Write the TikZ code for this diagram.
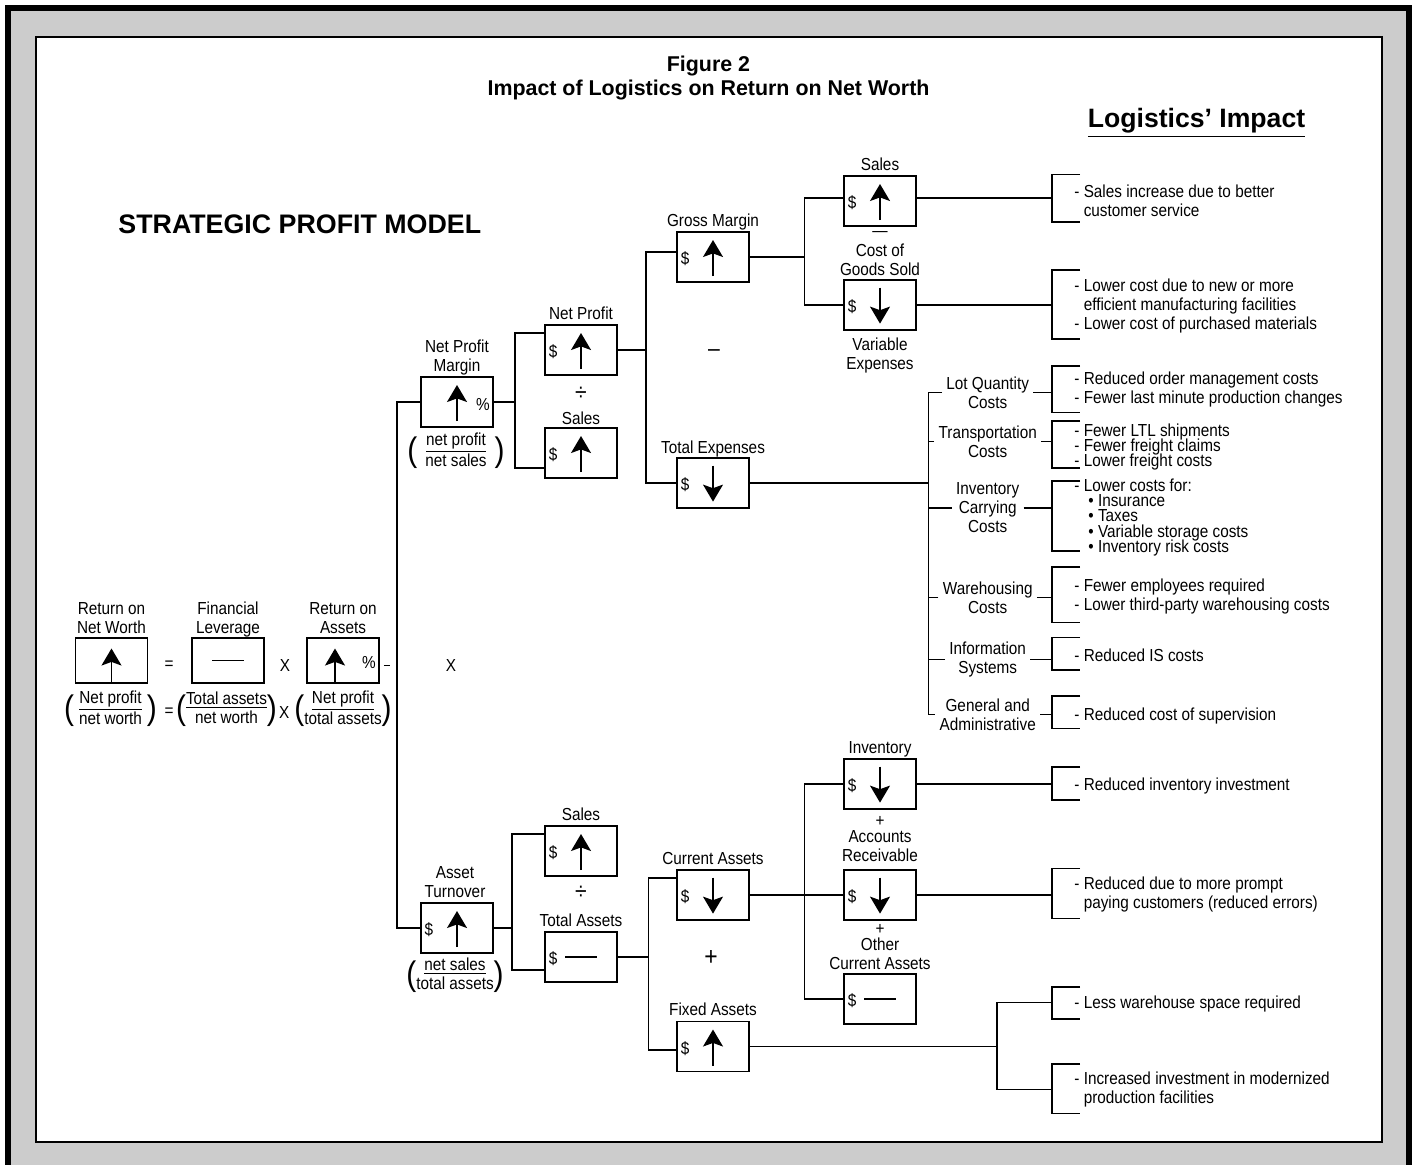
\documentclass[tikz,border=0pt]{standalone}
\usepackage{fontspec}
\setmainfont[FakeStretch=0.88]{Liberation Sans}
\newfontfamily\headfont{Liberation Sans}
\usetikzlibrary{arrows.meta}
\definecolor{framegray}{RGB}{204,204,204}
\newcommand\bigparen[1]{{\fontsize{17}{17}\selectfont\raisebox{-2.4pt}{#1}}}
\newcommand\ratiofrac[3][0pt]{\bigparen{(}\hspace{#1}\begin{tabular}{@{}c@{}}\underline{#2}\\#3\end{tabular}\hspace{#1}\bigparen{)}}

\begin{document}
\begin{tikzpicture}[
    x=0.5pt, y=-0.5pt,
    font=\fontsize{8.7}{9.5}\selectfont,
    box/.style={draw, line width=0.9pt, minimum width=36pt, minimum height=25pt, inner sep=0pt},
    lowbox/.style={box, minimum height=22.5pt},
    lbl/.style={align=center, inner sep=0pt, anchor=base},
    cost/.style={align=center, inner xsep=2pt, inner ysep=0pt, anchor=base},
    note/.style={align=left, inner sep=0pt, anchor=base west},
    frac/.style={inner sep=0pt},
    op/.style={inner sep=0pt},
    bigop/.style={op, font=\fontsize{12}{12}\selectfont},
    link/.style={line width=0.8pt},
    uparr/.style={line width=0.7pt, -{Stealth[length=8.5pt, width=10pt, inset=1.8pt]}},
    heading/.style={font=\headfont\bfseries\fontsize{#1}{#1}\selectfont, inner sep=0pt}
]

% --- Frame ---
\useasboundingbox (0,0) rectangle (1416,1164);
\fill[framegray] (8,8) rectangle (1409,1170);
\draw[line width=2.6pt] (8,1170) -- (8,8) -- (1409,8) -- (1409,1170);
\draw[line width=0.6pt, fill=white] (36,37) rectangle (1382,1142);

% --- Headings ---
\node[heading=10.7, anchor=base] (fig) at (708.5,71.5) {Figure 2};
\node[heading=10.7, anchor=base] (title) at (708.5,95.5) {Impact of Logistics on Return on Net Worth};
\node[heading=13.3, anchor=base] (impact) at (1196.5,127.5) {\underline{Logistics’ Impact}};
\node[heading=13.4, anchor=base west] (spm) at (118,233.5) {STRATEGIC PROFIT MODEL};

% --- Boxes ---
\node[lowbox] (roe) at (111.5,660.5) {};
\node[lowbox] (lev) at (228,660.5) {};
\node[lowbox] (roa) at (343,660.5) {};
\node[box] (npm) at (457,402) {};
\node[box] (ato) at (457,928) {};
\node[box] (np) at (581,350) {};
\node[box] (nsal) at (581,453) {};
\node[box] (gm) at (713,257) {};
\node[box] (texp) at (713,483) {};
\node[box] (sal) at (880,201) {};
\node[box] (cogs) at (880,305) {};
\node[box] (asal) at (581,851) {};
\node[box] (tas) at (581,957) {};
\node[box] (cas) at (713,895) {};
\node[box] (fas) at (713,1046.5) {};
\node[box] (inv) at (880,784) {};
\node[box] (ar) at (880,895) {};
\node[box] (oca) at (880,999) {};

% --- Marks inside the boxes ---
\foreach \b/\dx in {roe/0, roa/-4}
    \draw[uparr] ([xshift=\dx pt, yshift=-10.5pt]\b.center) -- ([xshift=\dx pt, yshift=6pt]\b.center);
\foreach \b in {npm,ato,np,nsal,gm,sal,asal,fas}
    \draw[uparr] ([yshift=-9.5pt]\b.center) -- ([yshift=8.5pt]\b.center);
\foreach \b in {cogs,texp,cas,inv,ar}
    \draw[uparr] ([yshift=8.7pt]\b.center) -- ([yshift=-9.3pt]\b.center);
\foreach \b in {lev,tas,oca}
    \draw[link] ([xshift=-8pt]\b.center) -- ([xshift=8pt]\b.center);
\foreach \b in {ato,np,nsal,gm,sal,cogs,texp,asal,tas,cas,fas,inv,ar,oca}
    \node[inner sep=0pt] (\b-usd) at ([xshift=-14pt, yshift=-1pt]\b.center) {\$};
\foreach \b in {npm,roa}
    \node[inner sep=0pt] (\b-pct) at ([xshift=13pt, yshift=-1pt]\b.center) {\%};

% --- Box labels (placed at the last baseline) ---
\node[lbl] (roe-l) at (111.5,633.3) {Return on\\Net Worth};
\node[lbl] (lev-l) at (228,633.3) {Financial\\Leverage};
\node[lbl] (roa-l) at (343,633.3) {Return on\\Assets};
\node[lbl] (npm-l) at (457,371.7) {Net Profit\\Margin};
\node[lbl] (ato-l) at (455,897) {Asset\\Turnover};
\node[lbl] (np-l) at (581,319.3) {Net Profit};
\node[lbl] (nsal-l) at (581,424.3) {Sales};
\node[lbl] (gm-l) at (713,226) {Gross Margin};
\node[lbl] (texp-l) at (713,453.3) {Total Expenses};
\node[lbl] (sal-l) at (880,170.7) {Sales};
\node[lbl] (cogs-l) at (880,275) {Cost of\\Goods Sold};
\node[lbl] (var-l) at (880,369.3) {Variable\\Expenses};
\node[lbl] (asal-l) at (581,820) {Sales};
\node[lbl] (tas-l) at (581,926) {Total Assets};
\node[lbl] (cas-l) at (713,864) {Current Assets};
\node[lbl] (fas-l) at (713,1015.7) {Fixed Assets};
\node[lbl] (inv-l) at (880,753.3) {Inventory};
\node[lbl] (ar-l) at (880,861.7) {Accounts\\Receivable};
\node[lbl] (oca-l) at (880,969.3) {Other\\Current Assets};

% --- Operators ---
\node[op] (eq1) at (169,665) {=};
\node[op] (times1) at (285,665) {X};
\node[op] (times2) at (451,665) {X};
\node[op] (eq2) at (169,712) {=};
\node[op] (times3) at (284.3,712) {X};
\node[bigop] (div1) at (581,393.3) {÷};
\node[bigop] (div2) at (581,893) {÷};
\node[bigop] (minus1) at (714,353.3) {–};
\node[op] (minus2) at (880,234.3) {—};
\node[op] (plus1) at (880,821.7) {+};
\node[op] (plus2) at (880,929.3) {+};
\node[op, font=\fontsize{13}{13}\selectfont] (plus3) at (711,958) {+};

% --- Ratios ---
\node[frac] (roe-f) at (110.5,710) {\ratiofrac[2.5pt]{Net profit}{net worth}};
\node[frac] (lev-f) at (226.5,710) {\ratiofrac{Total assets}{net worth}};
\node[frac] (roa-f) at (343,710) {\ratiofrac{Net profit}{total assets}};
\node[frac] (npm-f) at (456,452) {\ratiofrac[4pt]{net profit}{net sales}};
\node[frac] (ato-f) at (455,976) {\ratiofrac{net sales}{total assets}};

% --- Cost items ---
\node[cost] (lqc) at (987.7,408.3) {Lot Quantity\\Costs};
\node[cost] (trc) at (987.7,457.3) {Transportation\\Costs};
\node[cost] (icc) at (987.7,532.7) {Inventory\\Carrying\\Costs};
\node[cost] (whc) at (987.7,613.3) {Warehousing\\Costs};
\node[cost] (isc) at (987.7,673.3) {Information\\Systems};
\node[cost] (gac) at (987.7,730) {General and\\Administrative};

% --- Junctions ---
\coordinate (ms) at (396.7,665);
\coordinate (j1) at (515,401);
\coordinate (j2) at (645.7,349);
\coordinate (j3) at (804.3,256);
\coordinate (cs) at (928.3,483);
\coordinate (j4) at (511.7,928);
\coordinate (j5) at (648.3,957);
\coordinate (j6) at (804.3,895);
\coordinate (j7) at (996.7,1046);
\coordinate (br) at (1051.7,0);
\coordinate (fa1) at (1051.7,1002.3);
\coordinate (fa2) at (1051.7,1089.3);

% --- Connectors ---
\draw[link, shorten <=2pt, shorten >=3.5pt] ([yshift=-2.5pt]roa.east) -- ([yshift=-2.5pt]roa.east -| ms);
\draw[link] (npm.west) -| (ato.west -| ms) -- (ato.west);
\draw[link] (npm.east) -- (npm.east -| j1);
\draw[link] ([yshift=8.5pt]np.west) -| ([yshift=-7.5pt]nsal.west -| j1) -- ([yshift=-7.5pt]nsal.west);
\draw[link] (np.east) -- (np.east -| j2);
\draw[link] ([yshift=2.4pt]gm.west) -| (texp.west -| j2) -- (texp.west);
\draw[link] (gm.east) -- (gm.east -| j3);
\draw[link] ([yshift=1.4pt]sal.west) -| (cogs.west -| j3) -- (cogs.west);
\draw[link] ([yshift=1.4pt]sal.east) -- ([yshift=1.4pt]sal.east -| br);
\draw[link] (cogs.east) -- (cogs.east -| br);
\draw[link] (texp.east) -- (texp.east -| cs);
\draw[link] (lqc.west) -| (gac.west -| cs) -- (gac.west);
\foreach \c in {trc,icc,whc,isc}
    \draw[link] (\c.west) -- (\c.west -| cs);
\foreach \c in {lqc,trc,icc,whc,isc,gac}
    \draw[link] (\c.east) -- (\c.east -| br);

\draw[link] (ato.east) -- (ato.east -| j4);
\draw[link] ([yshift=8.5pt]asal.west) -| ([yshift=-6.5pt]tas.west -| j4) -- ([yshift=-6.5pt]tas.west);
\draw[link] (tas.east) -- (tas.east -| j5);
\draw[link] ([yshift=8.5pt]cas.west) -| ([yshift=-1.7pt]fas.west -| j5) -- ([yshift=-1.7pt]fas.west);
\draw[link] (cas.east) -- (ar.west);
\draw[link] (inv.west) -| (oca.west -| j6) -- (oca.west);
\draw[link] (inv.east) -- (inv.east -| br);
\draw[link] (ar.east) -- (ar.east -| br);
\draw[link] (fas.east) -- (fas.east -| j7);
\draw[link] (fa1) -| (fa2 -| j7) -- (fa2);

% --- Brackets ---
\foreach \t/\b in {174.3/221.7, 270/339, 365.7/412.3, 421/467.7, 481/551, 566.7/622.3,
                   637.3/670, 696/728.3, 766.7/800, 868.3/918.3, 986.7/1019, 1064/1113.3}
    \draw[link] (1080,\t) -- (1051.7,\t) -- (1051.7,\b) -- (1080,\b);

% --- Logistics' impact notes (placed at the last baseline) ---
\node[note] (n1) at (1074,216) {- Sales increase due to better\\\phantom{- }customer service};
\node[note] (n2) at (1074,329.3) {- Lower cost due to new or more\\\phantom{- }efficient manufacturing facilities\\- Lower cost of purchased materials};
\node[note] (n3) at (1074,403.3) {- Reduced order management costs\\- Fewer last minute production changes};
\node[note] (n4) at (1074,466) {- Fewer LTL shipments\\[-2pt]- Fewer freight claims\\[-2pt]- Lower freight costs};
\node[note] (n5) at (1074,552.7) {- Lower costs for:\\[-1.8pt]\hspace*{7pt}• Insurance\\[-1.8pt]\hspace*{7pt}• Taxes\\[-1.8pt]\hspace*{7pt}• Variable storage costs\\[-1.8pt]\hspace*{7pt}• Inventory risk costs};
\node[note] (n6) at (1074,610) {- Fewer employees required\\- Lower third-party warehousing costs};
\node[note] (n7) at (1074,661.7) {- Reduced IS costs};
\node[note] (n8) at (1074,720) {- Reduced cost of supervision};
\node[note] (n9) at (1074,790.7) {- Reduced inventory investment};
\node[note] (n10) at (1074,908.3) {- Reduced due to more prompt\\\phantom{- }paying customers (reduced errors)};
\node[note] (n11) at (1074,1008.3) {- Less warehouse space required};
\node[note] (n12) at (1074,1103.3) {- Increased investment in modernized\\\phantom{- }production facilities};

\end{tikzpicture}
\end{document}
